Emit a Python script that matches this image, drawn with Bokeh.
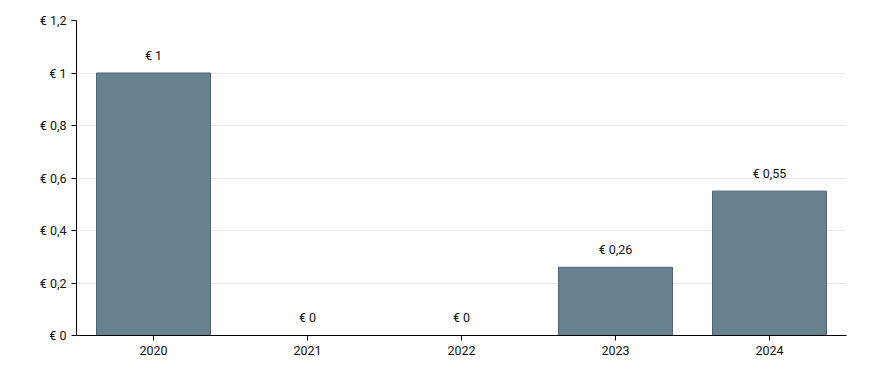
from bokeh.plotting import figure
from bokeh.models import ColumnDataSource, FixedTicker, CustomJSTickFormatter, Label
from bokeh.core.properties import value
from bokeh.embed import file_html
from bokeh.resources import INLINE

years = ["2020", "2021", "2022", "2023", "2024"]
dividends = [1.0, 0.0, 0.0, 0.26, 0.55]
value_labels = ["€ " + ("%g" % v).replace(".", ",") for v in dividends]
y_ticks = [0, 0.2, 0.4, 0.6, 0.8, 1.0, 1.2]

src = ColumnDataSource(dict(x=years, top=dividends, lbl=value_labels))

p = figure(x_range=years, y_range=(0, 1.2), frame_width=770, frame_height=315,
           min_border_left=76, min_border_right=34, min_border_top=20, min_border_bottom=27,
           output_backend="svg", toolbar_location=None)

p.vbar(x="x", top="top", width=0.74, source=src, fill_color="#67818f",
       line_color="#4d6478", line_width=1)
p.text(x="x", y="top", text="lbl", source=src, y_offset=-18, text_align="center",
       text_baseline="middle", text_font=value("Roboto"), text_font_size="12.5px",
       text_color="#111111")

p.outline_line_color = None
p.xgrid.grid_line_color = None
p.ygrid.grid_line_color = "#e6e6e6"
p.ygrid.ticker = FixedTicker(ticks=y_ticks)
p.yaxis.ticker = FixedTicker(ticks=y_ticks)
p.yaxis.formatter = CustomJSTickFormatter(
    code='return "€ " + (Math.round(tick*10)/10).toString().replace(".", ",");')
for ax in (p.xaxis[0], p.yaxis[0]):
    ax.axis_line_color = "black"
    ax.major_tick_line_color = "black"
    ax.major_tick_out = 5
    ax.major_tick_in = 0
    ax.minor_tick_line_color = None
    ax.major_label_text_font = "Roboto"
    ax.major_label_text_font_size = "12.5px"
    ax.major_label_text_color = "#111111"
    ax.major_label_standoff = 5
p.x_range.range_padding = 0

p.add_layout(Label(x=5, y=1.2, x_offset=31, y_offset=12, text="(c) Trivano.com",
                   text_align="right", text_baseline="middle",
                   text_font="Liberation Sans", text_font_size="11px",
                   text_color="#111111"))

open("out.html", "w").write(file_html(p, INLINE))
